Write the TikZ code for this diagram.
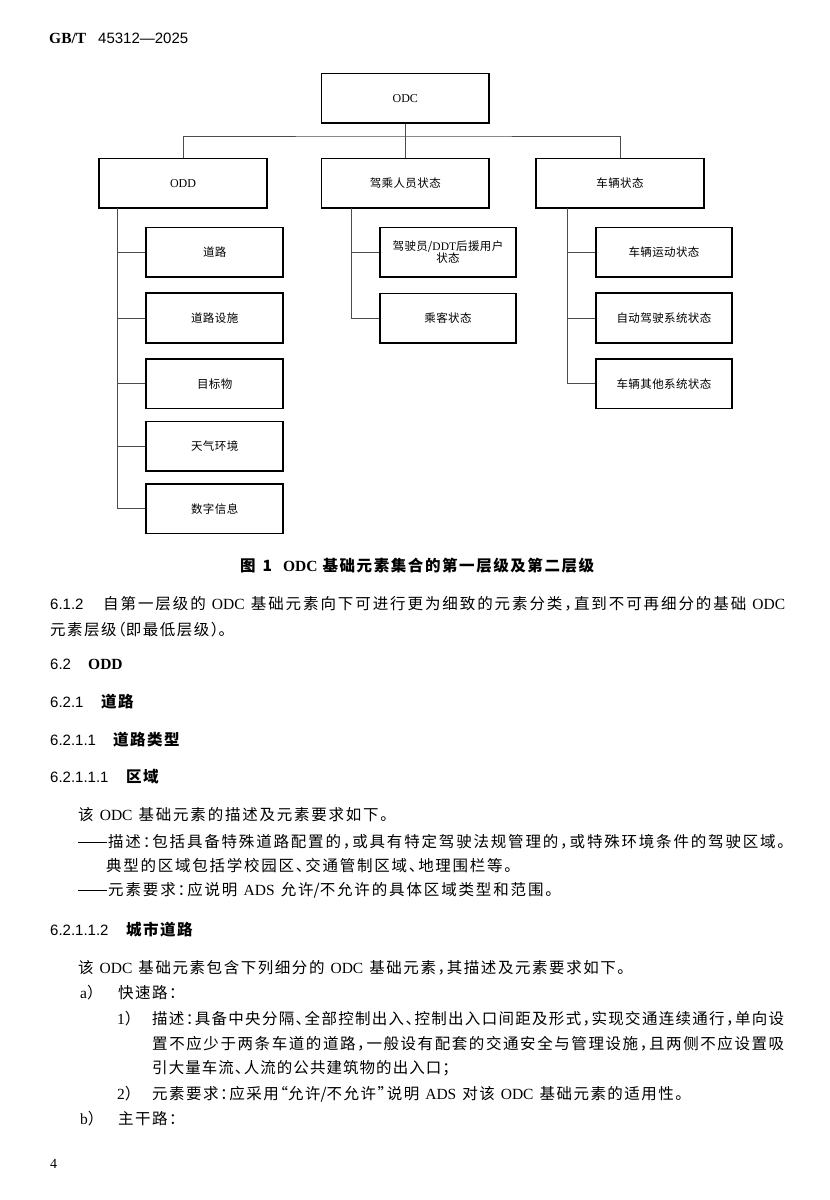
\documentclass[tikz,border=0pt]{standalone}
\usepackage{fontspec}
\setmainfont{Noto Sans CJK SC}[RawFeature=+halt]
\newfontfamily\ser{Liberation Serif}
\newfontfamily\san{Liberation Sans}
\def\cjkgapv{1.5pt}
\newcount\cjkcc
\cjkcc="4E00
\loop \XeTeXcharclass\cjkcc=1 \advance\cjkcc 1 \ifnum\cjkcc<"A000 \repeat
\XeTeXcharclass"3002=3 \XeTeXcharclass"FF0C=3 \XeTeXcharclass"3001=3
\XeTeXcharclass"FF1A=3 \XeTeXcharclass"FF1B=3 \XeTeXcharclass"FF09=3
\XeTeXcharclass"201D=3 \XeTeXcharclass"FF08=2 \XeTeXcharclass"201C=2
\XeTeXinterchartokenstate=1
\XeTeXinterchartoks 1 1 = {\hskip\cjkgapv plus 4pt minus 1pt\relax}
\XeTeXinterchartoks 1 2 = {\hskip\cjkgapv plus 4pt minus 1pt\relax}
\XeTeXinterchartoks 1 3 = {\hskip\cjkgapv plus 4pt minus 1pt\relax}
\XeTeXinterchartoks 3 1 = {\hskip\cjkgapv plus 4pt minus 1pt\relax}
\newcommand\E[1]{{\ser #1}}
\newcommand\Es[1]{\hspace{6pt plus 2pt}{\ser #1}\hspace{6pt plus 2pt}}
\newcommand\dashes{\rule[5pt]{29pt}{0.8pt}\hspace{1pt}}
\tikzset{
  box/.style={draw, line width=1.8pt, inner sep=0pt, align=center, font=\fontsize{11.5}{13.5}\selectfont\def\cjkgapv{0.4pt}},
  lvl/.style={box, minimum width=167.5pt, minimum height=49.5pt},
  sub/.style={box, minimum width=137pt, minimum height=49.5pt},
  con/.style={draw=black!70, line width=1pt},
  tl/.style={anchor=base west, inner sep=0pt, font=\fontsize{15.5}{18}\selectfont},
  hd/.style={anchor=base west, inner sep=0pt, font=\fontsize{15.5}{18}\selectfont\bfseries},
  num/.style={anchor=base west, inner sep=0pt, font=\san\fontsize{15}{18}\selectfont},
}
\begin{document}
\begin{tikzpicture}[x=1pt,y=-1pt]
\useasboundingbox (0,0) rectangle (830,1200);
\fill[white] (0,0) rectangle (830,1200);
% header
\node[anchor=base west, inner sep=0pt, font=\ser\bfseries\fontsize{15.5}{18}\selectfont] (hdA) at (49,43.5) {GB/T};
\node[num] (hdB) at (98,43.5) {45312—2025};
% level 1
\node[lvl] (odc) at (405.3,98.3) {\E{\fontsize{12}{14}\selectfont ODC}};
\node[lvl] (odd) at (183,183.2) {\E{\fontsize{12}{14}\selectfont ODD}};
\node[lvl] (jc) at (405.3,183.2) {驾乘人员状态};
\node[lvl] (cl) at (620,183.2) {车辆状态};
\coordinate (bus) at (405.3,136);
\draw[con] (odc) -- (jc);
\draw[con] (odd.north) |- (bus) -| (cl.north);
% ODD children
\node[sub] (r1) at (214.7,252.3) {道路};
\node[sub] (r2) at (214.7,318) {道路设施};
\node[sub] (r3) at (214.7,383.7) {目标物};
\node[sub] (r4) at (214.7,446.2) {天气环境};
\node[sub] (r5) at (214.7,508.7) {数字信息};
\coordinate (s1) at (117.3,207.9);
\foreach \n in {r1,r2,r3,r4,r5} \draw[con] (s1) |- (\n.west);
% occupant children
\node[sub, minimum width=136pt] (p1) at (448,252.3) {驾驶员/\E{DDT}后援用户\\[-1pt]状态};
\node[sub, minimum width=136pt] (p2) at (448,318.3) {乘客状态};
\coordinate (s2) at (351.7,207.9);
\foreach \n in {p1,p2} \draw[con] (s2) |- (\n.west);
% vehicle children
\node[sub, minimum width=136pt] (v1) at (664,252.3) {车辆运动状态};
\node[sub, minimum width=136pt] (v2) at (664,318) {自动驾驶系统状态};
\node[sub, minimum width=136pt] (v3) at (664,383.7) {车辆其他系统状态};
\coordinate (s3) at (567.7,207.9);
\foreach \n in {v1,v2,v3} \draw[con] (s3) |- (\n.west);
% caption
\node[anchor=base west, inner sep=0pt, font=\bfseries\fontsize{15.5}{18}\selectfont] (cap) at (240,571)
  {\makebox[354pt][s]{图\hspace{7pt}1\hspace{11pt}{\ser\bfseries ODC}\hspace{5pt}基础元素集合的第一层级及第二层级}};
% 6.1.2
\node[num] (n612) at (50,609.5) {6.1.2};
\node[tl] (t1) at (103,609.5) {\makebox[682pt][s]{自第一层级的\Es{ODC}基础元素向下可进行更为细致的元素分类，直到不可再细分的基础\hspace{6pt plus 2pt}\E{ODC}}};
\node[tl] (t2) at (50,635.5) {元素层级（即最低层级）。};
% headings
\node[num] (n62) at (50,669.5) {6.2};
\node[anchor=base west, inner sep=0pt, font=\ser\bfseries\fontsize{15.5}{18}\selectfont] (h62) at (88,669.5) {ODD};
\node[num] (n621) at (50,707.5) {6.2.1};
\node[hd] (h621) at (101,707.5) {道路};
\node[num] (n6211) at (50,745.5) {6.2.1.1};
\node[hd] (h6211) at (113,745.5) {道路类型};
\node[num] (n62111) at (50,782.5) {6.2.1.1.1};
\node[hd] (h62111) at (126,782.5) {区域};
% paragraph
\node[tl] (t3) at (78,820.5) {\makebox[310pt][s]{该\Es{ODC}基础元素的描述及元素要求如下。}};
\node[tl] (t4) at (78,847.5) {\makebox[707pt][s]{\dashes 描述：包括具备特殊道路配置的，或具有特定驾驶法规管理的，或特殊环境条件的驾驶区域。}};
\node[tl] (t5) at (106,871.5) {\makebox[406pt][s]{典型的区域包括学校园区、交通管制区域、地理围栏等。}};
\node[tl] (t6) at (78,895.5) {\makebox[475pt][s]{\dashes 元素要求：应说明\Es{ADS}允许/不允许的具体区域类型和范围。}};
% 6.2.1.1.2
\node[num] (n62112) at (50,935.5) {6.2.1.1.2};
\node[hd] (h62112) at (126,935.5) {城市道路};
\node[tl] (t7) at (78,973.5) {\makebox[547pt][s]{该\Es{ODC}基础元素包含下列细分的\Es{ODC}基础元素，其描述及元素要求如下。}};
\node[tl] (la) at (80,998.5) {\E{a}）};
\node[tl] (t8) at (118,998.5) {快速路：};
\node[tl] (l1) at (117,1024.5) {\E{1}）};
\node[tl] (t9) at (152,1024.5) {\makebox[632pt][s]{描述：具备中央分隔、全部控制出入、控制出入口间距及形式，实现交通连续通行，单向设}};
\node[tl] (t10) at (152,1049.5) {\makebox[632pt][s]{置不应少于两条车道的道路，一般设有配套的交通安全与管理设施，且两侧不应设置吸}};
\node[tl] (t11) at (152,1073.5) {\makebox[298pt][s]{引大量车流、人流的公共建筑物的出入口；}};
\node[tl] (l2) at (117,1099.5) {\E{2}）};
\node[tl] (t12) at (152,1099.5) {\makebox[531pt][s]{元素要求：应采用“允许/不允许”说明\Es{ADS}对该\Es{ODC}基础元素的适用性。}};
\node[tl] (lb) at (80,1124.5) {\E{b}）};
\node[tl] (t13) at (118,1124.5) {主干路：};
% page number
\node[anchor=base west, inner sep=0pt, font=\ser\fontsize{14}{16}\selectfont] (pg) at (50,1168) {4};
\end{tikzpicture}
\end{document}
